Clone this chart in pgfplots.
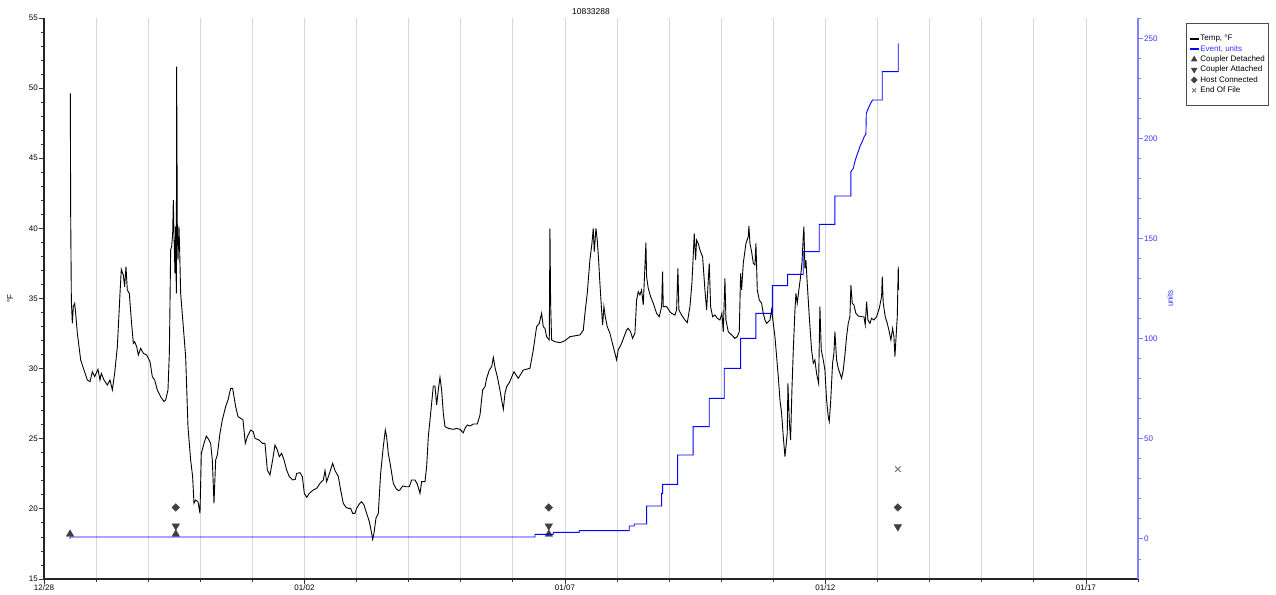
\documentclass[border=0pt]{standalone}
\usepackage{fontspec}
\setmainfont{Liberation Sans}
\usepackage{pgfplots}
\pgfplotsset{compat=1.18}
\usetikzlibrary{plotmarks}
\definecolor{evblue}{RGB}{0,0,255}
\definecolor{axblue}{RGB}{130,130,255}
\definecolor{lblblue}{RGB}{51,51,255}
\definecolor{mk}{RGB}{64,64,64}
\definecolor{gridc}{RGB}{215,215,215}
\begin{document}
\begin{tikzpicture}[font=\fontsize{8}{9.6}\selectfont]
\begin{axis}[
  scale only axis, width=1094pt, height=561pt,
  at={(0,0)}, anchor=south west,
  xmin=0, xmax=21, ymin=15, ymax=55,
  axis x line*=bottom, axis y line*=left,
  xtick={0,5,10,15,20}, xticklabels={12/28,01/02,01/07,01/12,01/17},
  minor xtick={1,2,3,4,6,7,8,9,11,12,13,14,16,17,18,19,21},
  ytick={15,20,...,55}, minor ytick={16,...,54},
  tick align=outside,
  major tick length=5pt, minor tick length=3pt,
  xmajorgrids, xminorgrids,
  major grid style={gridc, line width=0.8pt},
  minor grid style={gridc, line width=0.8pt},
  tick style={black!80, line width=0.8pt},
  axis line style={black!85, line width=1.2pt},
  title={10833288},
  every axis title/.style={at={(axis description cs:0.5,1)}, anchor=south, yshift=0pt, font=\fontsize{8.5}{10}\selectfont},
  ylabel={°F},
  ylabel style={at={(axis description cs:-0.031,0.5)}, anchor=center},
  /pgf/number format/assume math mode=true,
  tick label style={font=\fontsize{8}{9.6}\selectfont},
  every tick label/.append style={inner sep=1pt},
]
\addplot[black, line width=0.9pt] coordinates {
(0.505,49.63)(0.512,41.07)(0.525,34.89)(0.544,33.23)(0.563,34.42)(0.589,34.65)(0.608,33.94)(0.640,32.52)(0.704,30.62)(0.768,29.90)(0.832,29.19)(0.883,29.07)(0.928,29.78)(0.972,29.43)(1.036,29.95)(1.075,29.19)(1.100,29.66)(1.152,29.19)(1.216,28.83)(1.267,29.19)(1.312,28.48)(1.356,29.66)(1.408,31.56)(1.459,35.37)(1.484,37.08)(1.523,36.67)(1.548,35.84)(1.574,37.27)(1.599,35.60)(1.638,35.37)(1.676,33.47)(1.715,31.80)(1.740,31.92)(1.779,31.56)(1.811,30.97)(1.855,31.45)(1.907,31.09)(1.971,30.97)(2.035,30.50)(2.079,29.43)(2.124,29.19)(2.175,28.48)(2.239,28.00)(2.303,27.65)(2.335,27.76)(2.380,28.48)(2.406,31.09)(2.418,34.42)(2.431,38.46)(2.450,38.69)(2.470,39.64)(2.482,42.02)(2.495,39.64)(2.514,36.79)(2.527,40.12)(2.540,35.37)(2.546,51.53)(2.559,40.12)(2.572,37.74)(2.591,40.12)(2.604,38.46)(2.623,35.37)(2.674,32.99)(2.719,30.85)(2.764,25.86)(2.815,23.48)(2.853,22.30)(2.879,20.40)(2.911,20.63)(2.956,20.51)(2.994,19.68)(3.020,23.96)(3.071,24.67)(3.116,25.19)(3.167,24.91)(3.199,24.67)(3.231,23.48)(3.263,20.40)(3.295,23.48)(3.327,23.84)(3.378,25.39)(3.423,26.34)(3.487,27.29)(3.532,27.76)(3.583,28.59)(3.621,28.59)(3.647,28.00)(3.679,27.29)(3.724,26.58)(3.775,26.46)(3.820,26.34)(3.864,24.67)(3.903,25.14)(3.967,25.62)(4.018,25.50)(4.050,25.03)(4.127,24.91)(4.191,24.67)
(4.242,24.67)(4.287,22.77)(4.338,22.42)(4.389,23.49)(4.434,24.55)(4.479,24.20)(4.517,23.72)(4.562,23.96)(4.607,23.49)(4.658,22.77)(4.709,22.30)(4.773,22.06)(4.824,22.11)(4.850,22.53)(4.914,22.58)(4.959,22.30)(4.997,21.11)(5.042,20.82)(5.093,21.11)(5.170,21.35)(5.234,21.46)(5.298,21.82)(5.362,22.06)(5.394,22.73)(5.426,21.94)(5.490,22.65)(5.541,23.25)(5.586,22.73)(5.650,22.30)(5.694,21.35)(5.745,20.40)(5.797,20.11)(5.841,20.04)(5.886,20.04)(5.925,19.68)(5.969,19.68)(6.001,20.04)(6.053,20.35)(6.097,20.51)(6.142,20.28)(6.193,19.68)(6.245,19.09)(6.289,18.26)(6.309,17.83)(6.334,18.26)(6.372,19.33)(6.417,19.68)(6.462,22.53)(6.513,24.44)(6.552,25.62)(6.577,25.15)(6.609,23.96)(6.654,23.01)(6.705,21.82)(6.756,21.46)(6.801,21.30)(6.833,21.35)(6.884,21.63)(6.948,21.58)(7.012,21.58)(7.057,22.06)(7.121,22.06)(7.166,21.77)(7.217,21.11)(7.249,21.94)(7.313,21.94)(7.345,23.01)(7.377,25.15)(7.422,26.81)(7.473,28.76)(7.505,28.76)(7.537,27.41)(7.569,28.48)(7.601,29.38)(7.633,28.48)(7.665,26.81)(7.697,25.86)(7.761,25.74)(7.857,25.67)(7.921,25.74)(7.985,25.67)(8.049,25.43)(8.081,25.74)(8.126,25.98)(8.177,25.91)(8.241,26.05)(8.317,26.05)(8.369,26.69)(8.420,28.48)(8.465,28.71)(8.497,29.31)(8.548,29.90)(8.593,30.14)(8.625,30.80)(8.657,30.09)(8.701,29.43)(8.740,28.71)(8.785,27.76)(8.817,27.10)(8.849,28.24)(8.881,28.71)(8.932,29.00)
(9.021,29.78)(9.104,29.31)(9.200,29.90)(9.328,30.02)(9.392,31.33)(9.456,32.99)(9.507,33.23)(9.552,33.94)(9.584,32.99)(9.616,32.87)(9.648,32.28)(9.699,32.04)(9.712,40.00)(9.725,34.66)(9.744,32.04)(9.808,31.92)(9.904,31.85)(10.000,31.99)(10.096,32.28)(10.288,32.40)(10.352,32.75)(10.384,33.94)(10.428,35.37)(10.479,37.75)(10.518,38.93)(10.543,40.00)(10.563,38.34)(10.595,40.00)(10.620,39.17)(10.646,37.75)(10.671,36.08)(10.703,34.18)(10.723,33.11)(10.748,34.42)(10.774,33.70)(10.812,32.99)(10.863,32.52)(10.927,31.57)(10.991,30.62)(11.023,31.33)(11.087,31.80)(11.135,32.28)(11.183,32.75)(11.215,32.87)(11.260,32.63)(11.298,32.16)(11.343,32.52)(11.375,34.89)(11.407,35.49)(11.439,35.25)(11.471,35.61)(11.503,34.54)(11.535,37.27)(11.554,38.98)(11.567,36.56)(11.599,35.73)(11.644,35.13)(11.695,34.66)(11.759,33.94)(11.810,33.70)(11.855,34.42)(11.874,36.91)(11.887,34.42)(11.951,34.42)(12.015,34.06)(12.047,33.94)(12.111,33.82)(12.143,34.18)(12.168,37.15)(12.187,34.18)(12.239,33.82)(12.303,33.47)(12.348,33.28)(12.399,34.42)(12.437,36.08)(12.463,38.10)(12.482,39.65)(12.508,37.75)(12.527,39.17)(12.559,38.93)(12.591,38.46)
(12.642,37.98)(12.687,35.61)(12.719,34.18)(12.770,37.51)(12.796,34.42)(12.834,33.70)(12.879,33.82)(12.924,33.59)(12.975,33.47)(13.013,33.94)(13.039,32.63)(13.071,36.44)(13.090,33.47)(13.135,32.63)(13.199,32.40)(13.263,32.16)(13.308,32.28)(13.346,32.63)(13.372,36.79)(13.391,35.61)(13.423,37.51)(13.474,38.93)(13.519,39.41)(13.531,40.17)(13.551,38.93)(13.583,38.34)(13.615,37.51)(13.647,37.40)(13.666,38.93)(13.692,35.61)(13.730,34.89)(13.775,34.66)(13.807,33.94)(13.839,33.47)(13.871,33.23)(13.935,33.47)(13.967,34.18)(13.999,33.23)(14.031,32.28)(14.063,30.85)(14.095,29.43)(14.127,27.76)(14.159,26.81)(14.191,25.15)(14.223,23.72)(14.242,24.44)(14.267,25.38)(14.280,28.95)(14.306,26.34)(14.331,24.91)(14.357,28.48)(14.383,31.33)(14.415,34.18)(14.434,35.37)(14.459,34.66)(14.498,35.84)(14.523,36.56)(14.549,37.51)(14.574,39.41)(14.587,40.12)(14.606,37.15)(14.626,37.74)(14.651,36.08)(14.690,33.70)(14.734,31.33)(14.767,30.38)(14.798,30.62)(14.830,29.66)(14.869,28.95)(14.894,34.42)(14.920,31.33)(14.958,30.62)(14.990,29.90)(15.022,27.76)(15.054,26.57)(15.073,26.22)(15.099,27.53)(15.137,30.38)(15.163,31.09)(15.182,32.63)(15.214,30.62)(15.246,30.02)(15.278,29.66)(15.310,29.31)(15.342,29.90)(15.374,30.97)(15.406,32.28)(15.438,33.23)(15.470,33.70)(15.489,35.96)(15.515,34.66)(15.547,34.54)(15.585,33.94)(15.630,33.75)(15.694,33.70)(15.739,33.70)(15.764,33.11)(15.790,34.77)(15.816,33.47)(15.854,33.23)(15.886,33.59)(15.931,33.47)(15.982,33.70)(16.033,34.30)(16.078,35.13)(16.091,36.56)(16.110,34.66)(16.148,33.70)(16.187,33.23)(16.225,32.63)(16.257,32.04)(16.289,32.87)(16.315,32.28)(16.334,30.85)(16.360,32.52)(16.379,33.70)(16.398,37.27)(16.404,35.61)
};
\addplot[only marks, mark=triangle*, mark size=4.3pt, mk, mark options={fill=mk, draw=mk}] coordinates {(0.50,18.2)(2.53,18.2)(9.69,18.2)};
\addplot[only marks, mark=triangle*, mark size=4.3pt, mk, mark options={fill=mk, draw=mk, rotate=180}] coordinates {(2.53,18.78)(9.69,18.78)(16.39,18.72)};
\addplot[only marks, mark=square*, mark size=2.7pt, mk, mark options={fill=mk, draw=mk, rotate=45}] coordinates {(2.53,20.1)(9.69,20.1)(16.39,20.1)};
\addplot[only marks, mark=x, mark size=3.8pt, black!60, mark options={line width=0.9pt}] coordinates {(16.39,22.84)};
\end{axis}
\begin{axis}[
  scale only axis, width=1094pt, height=561pt,
  at={(0,0)}, anchor=south west,
  xmin=0, xmax=21, ymin=-20, ymax=260.5,
  axis x line=none, axis y line*=right,
  ytick={0,50,...,250}, minor ytick={-10,10,20,30,40,60,70,80,90,110,120,130,140,160,170,180,190,210,220,230,240,260},
  tick align=outside,
  major tick length=5pt, minor tick length=3pt,
  y axis line style={axblue, line width=1.8pt},
  ytick style={axblue, line width=1pt},
  yticklabel style={text=lblblue, font=\fontsize{8}{9.6}\selectfont, inner sep=1pt},
  ylabel={units},
  ylabel style={at={(axis description cs:1.0293,0.5)}, anchor=center, text=lblblue},
  /pgf/number format/assume math mode=true,
  legend style={at={(axis description cs:1.0435,0.991)}, anchor=north west,
    draw=black!70, line width=0.8pt, inner xsep=3pt, inner ysep=10.5pt,
    font=\fontsize{8}{9.6}\selectfont, row sep=0.5pt,
    nodes={inner sep=1pt, text height=6pt, text depth=1.8pt}},
  legend cell align=left,
  legend image code/.code={\draw[mark repeat=2,mark phase=2,#1] plot coordinates {(0pt,0pt)(4.5pt,0pt)(9pt,0pt)};},
]
\addlegendimage{black, line width=1.4pt}
\addlegendentry{Temp, °F}
\addplot[evblue, line width=0.9pt, forget plot] coordinates {
(0.50,0)(0.50,1)(9.424,1)(9.424,2.3)(9.776,2.3)(9.776,3.3)(10.275,3.3)(10.275,4.2)(11.235,4.2)(11.235,6.5)(11.331,6.5)(11.331,7.5)(11.568,7.5)(11.568,16.5)(11.856,16.5)(11.856,22.8)(11.875,22.8)(11.875,27.3)(12.163,27.3)(12.163,42)(12.46,42)(12.46,56.2)(12.770,56.2)(12.770,70.3)(13.058,70.3)(13.058,85.3)(13.372,85.3)(13.372,100.3)(13.666,100.3)(13.666,112.8)(13.980,112.8)(13.980,126.7)(14.274,126.7)(14.274,132.3)(14.574,132.3)(14.574,143.7)(14.881,143.7)(14.881,157.3)(15.182,157.3)(15.182,171.5)(15.489,171.5)(15.489,183.7)(15.534,185.3)(15.566,188.7)(15.598,191.5)(15.630,193.7)(15.662,196.2)(15.707,198.7)(15.745,201.2)(15.777,202.5)(15.784,212.8)(15.822,215.3)(15.867,217.8)(15.905,219.5)(16.091,219.5)(16.091,233.7)(16.398,233.7)(16.398,247.8)
};
\addlegendimage{evblue, line width=1.4pt}
\addlegendentry{\textcolor{lblblue}{Event, units}}
\addlegendimage{only marks, mark=triangle*, mark size=3pt, mk, mark options={fill=mk, draw=mk}}
\addlegendentry{Coupler Detached}
\addlegendimage{only marks, mark=triangle*, mark size=3pt, mk, mark options={fill=mk, draw=mk, rotate=180}}
\addlegendentry{Coupler Attached}
\addlegendimage{only marks, mark=square*, mark size=2pt, mk, mark options={fill=mk, draw=mk, rotate=45}}
\addlegendentry{Host Connected}
\addlegendimage{only marks, mark=x, mark size=2.7pt, black!60}
\addlegendentry{End Of File}
\end{axis}
\pgfresetboundingbox
\useasboundingbox (-44pt,-15pt) rectangle (1232pt,579pt);
\end{tikzpicture}
\end{document}
